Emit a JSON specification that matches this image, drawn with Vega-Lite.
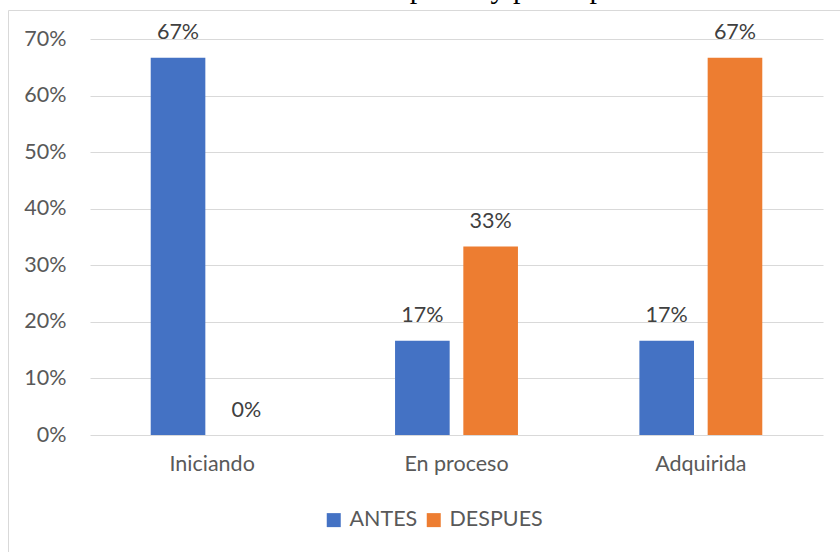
{
  "$schema": "https://vega.github.io/schema/vega-lite/v6.json",
  "width": 840,
  "height": 560,
  "autosize": {"type": "none"},
  "padding": {"left": 8, "top": 10, "right": 0, "bottom": 0},
  "background": "white",
  "title": {
    "text": "Gráfico 13 Responde y participa",
    "font": "Liberation Serif",
    "fontSize": 30,
    "fontWeight": "normal",
    "color": "#000000",
    "anchor": "middle",
    "frame": "group",
    "baseline": "alphabetic",
    "offset": 0,
    "dy": 18,
    "dx": -5
  },
  "data": {
    "values": [
      {"categoria": "Iniciando", "momento": "ANTES", "valor": 0.6667},
      {"categoria": "Iniciando", "momento": "DESPUES", "valor": 0},
      {"categoria": "En proceso", "momento": "ANTES", "valor": 0.1667},
      {"categoria": "En proceso", "momento": "DESPUES", "valor": 0.3333},
      {"categoria": "Adquirida", "momento": "ANTES", "valor": 0.1667},
      {"categoria": "Adquirida", "momento": "DESPUES", "valor": 0.6667}
    ]
  },
  "encoding": {
    "x": {
      "field": "categoria",
      "type": "nominal",
      "sort": ["Iniciando", "En proceso", "Adquirida"],
      "scale": {"range": [82, 815], "paddingInner": 0.497, "paddingOuter": 0.2485},
      "axis": {
        "title": null,
        "orient": "bottom",
        "offset": -135,
        "domain": false,
        "ticks": false,
        "labelAngle": 0,
        "labelPadding": 18,
        "labelFont": "Lato",
        "labelFontSize": 21.5,
        "labelColor": "#595959",
        "grid": false
      }
    },
    "xOffset": {
      "field": "momento",
      "type": "nominal",
      "sort": ["ANTES", "DESPUES"],
      "scale": {"paddingInner": 0.2, "paddingOuter": 0}
    },
    "y": {
      "field": "valor",
      "type": "quantitative",
      "scale": {"domain": [0, 0.7], "range": [425, 29], "nice": false, "zero": true},
      "axis": {
        "title": null,
        "orient": "left",
        "offset": -82,
        "values": [0, 0.1, 0.2, 0.3, 0.4, 0.5, 0.6, 0.7],
        "format": ".0%",
        "domain": false,
        "ticks": false,
        "labelPadding": 24,
        "labelFont": "Lato",
        "labelFontSize": 21.5,
        "labelColor": "#595959",
        "grid": true,
        "gridColor": "#D9D9D9",
        "gridWidth": 1
      }
    }
  },
  "layer": [
    {
      "mark": {"type": "bar"},
      "encoding": {
        "color": {
          "field": "momento",
          "type": "nominal",
          "scale": {"domain": ["ANTES", "DESPUES"], "range": ["#4472C4", "#ED7D31"]},
          "legend": {
            "title": null,
            "orient": "none",
            "direction": "horizontal",
            "legendX": 315,
            "legendY": 499,
            "symbolType": "square",
            "symbolSize": 196,
            "symbolStrokeWidth": 0,
            "labelFont": "Lato",
            "labelFontSize": 21.5,
            "labelColor": "#595959",
            "labelOffset": 5,
            "columnPadding": 5
          }
        }
      }
    },
    {
      "mark": {
        "type": "text",
        "baseline": "alphabetic",
        "dy": -18.5,
        "font": "Lato",
        "fontSize": 21.5,
        "color": "#404040"
      },
      "encoding": {
        "text": {"field": "valor", "type": "quantitative", "format": ".0%"}
      }
    }
  ],
  "config": {
    "view": {"stroke": "#D9D9D9", "strokeWidth": 1}
  }
}
